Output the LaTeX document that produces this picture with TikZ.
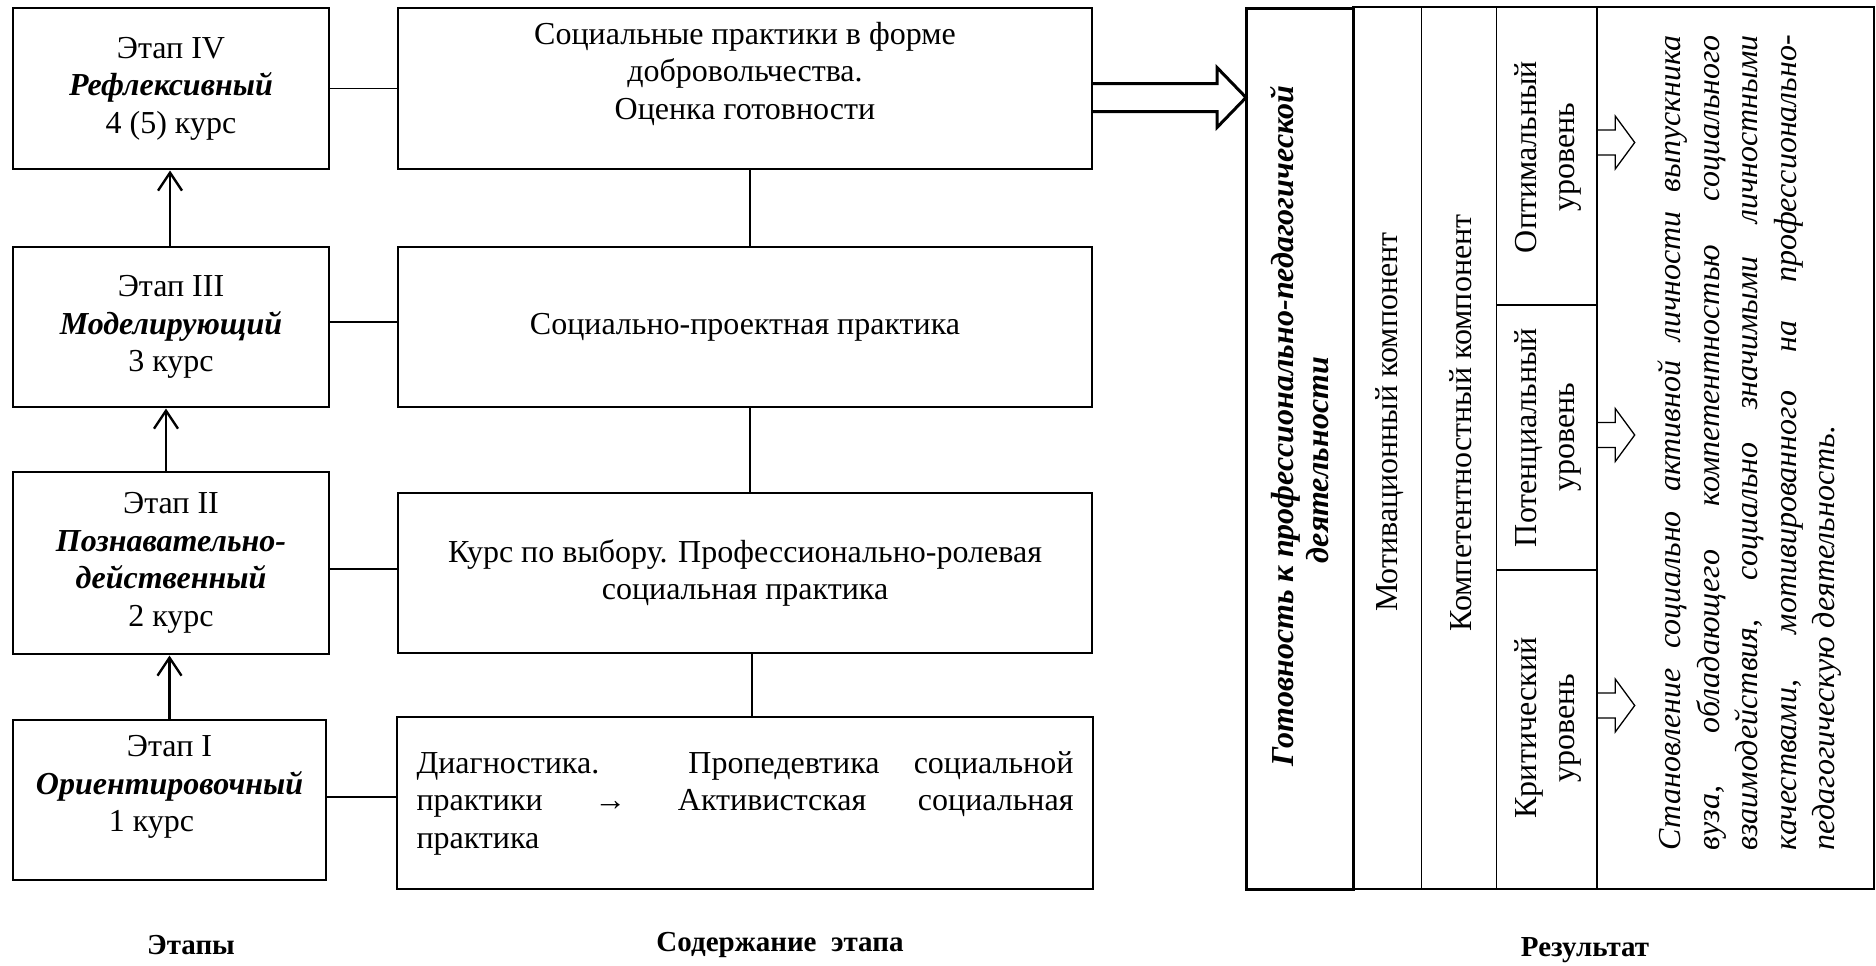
\documentclass[tikz,border=0pt]{standalone}
\usepackage{fontspec}
\setmainfont{Liberation Serif}
\usetikzlibrary{arrows.meta,calc}
\tikzset{
  fs/.style={font=\fontsize{32}{37.5}\selectfont},
  cell/.style={draw, line width=1.6pt, inner sep=0pt, outer sep=0pt},
  stagebox/.style={cell, fs, align=center, minimum width=316pt},
  contbox/.style={cell, fs, align=center, minimum width=694pt},
  conn/.style={line width=1.6pt},
  uparrow/.style={line width=2.4pt, shorten >=1.5pt, -{Straight Barb[length=18pt,width=24pt]}},
  bigarrow/.style={line width=3pt, line join=miter},
  smallarrow/.style={line width=1.3pt, line join=miter},
  vtext/.style={fs, rotate=90, align=center, inner sep=0pt},
  caption/.style={font=\fontsize{29}{34}\selectfont\bfseries},
}
\begin{document}
\begin{tikzpicture}[x=1pt,y=1pt]
\useasboundingbox (0,0) rectangle (1876,-966);
% ---------- stages ----------
\node[stagebox, minimum height=161pt] (e4) at (171,-88.5) {Этап IV\\\textbf{\textit{Рефлексивный}}\\4 (5) курс};
\node[stagebox, minimum height=160pt] (e3) at (171,-327) {Этап III\\\textbf{\textit{Моделирующий}}\\3 курс};
\node[stagebox, minimum height=182pt] (e2) at (171,-563) {Этап II\\\textbf{\textit{Познавательно-}}\\\textbf{\textit{действенный}}\\2 курс};
\node[cell, minimum width=313pt, minimum height=160pt] (e1) at (169.5,-800) {};
\node[fs, align=center] (e1t) at ([yshift=13]e1.center) {Этап I\\\textbf{\textit{Ориентировочный}}\\1 курс\hspace*{36pt}};
% ---------- contents ----------
\node[cell, minimum width=694pt, minimum height=161pt] (k4) at (745,-88.5) {};
\node[fs, align=center] (k4t) at (745,-73.5) {Социальные практики в форме\\добровольчества.\\Оценка готовности};
\node[contbox, minimum height=160pt] (k3) at (745,-327) {Социально-проектная практика};
\node[contbox, minimum height=160pt] (k2) at (745,-573) {Курс по выбору. Профессионально-ролевая\\социальная практика};
\node[contbox, align=left, minimum width=696pt, minimum height=172pt] (k1) at (745,-803) {\makebox[657pt][s]{Диагностика. Пропедевтика социальной}\\\makebox[657pt][s]{практики → Активистская социальная}\\практика};
% ---------- connectors ----------
\draw[conn] (e4.east) -- (k4.west);
\draw[conn] ([yshift=5]e3.east) -- ([yshift=5]k3.west);
\draw[conn] ([yshift=-6]e2.east) -- ([yshift=4]k2.west);
\draw[conn] ([yshift=3]e1.east) -- ([yshift=6]k1.west);
\draw[conn] ([xshift=5]k4.south) -- ([xshift=5]k3.north);
\draw[conn] ([xshift=5]k3.south) -- ([xshift=5]k2.north);
\draw[conn] ([xshift=7]k2.south) -- ([xshift=7]k1.north);
\draw[uparrow] (e1.north) -- (e1.north |- e2.south);
\draw[uparrow] ([xshift=-5]e2.north) -- ([xshift=-5]e3.south);
\draw[uparrow] ([xshift=-1]e3.north) -- ([xshift=-1]e4.south);
% ---------- result table ----------
\node[cell, minimum width=68.5pt, minimum height=882pt] (m) at (1387.25,-448) {};
\node[cell, minimum width=75pt, minimum height=882pt] (kc) at (1459,-448) {};
\node[cell, minimum width=100.2pt, minimum height=298pt] (L3) at (1546.6,-156) {};
\node[cell, minimum width=100.2pt, minimum height=265pt] (L2) at (1546.6,-437.5) {};
\node[cell, minimum width=100.2pt, minimum height=319pt] (L1) at (1546.6,-729.5) {};
\node[cell, minimum width=277.3pt, minimum height=882pt] (r) at (1735.35,-448) {};
\node[draw, line width=3pt, inner sep=0pt, outer sep=0pt, minimum width=107pt, minimum height=880pt] (g) at (1299.5,-449) {};
% texts in result table
\node[rotate=90, align=center, inner sep=0pt, font=\fontsize{32}{35}\selectfont\bfseries\itshape] (gt) at (1299.5,-426) {Готовность к профессионально-педагогической\\деятельности\hspace*{68pt}};
\node[vtext] (mt) at (1390,-422) {Мотивационный компонент};
\node[vtext] (kct) at (1461,-423) {Компетентностный компонент};
\node[vtext] (L3t) at (1548,-157) {Оптимальный\\уровень};
\node[vtext] (L2t) at (1548,-437.5) {Потенциальный\\уровень};
\node[vtext] (L1t) at (1548,-728) {Критический\\уровень};
\node[rotate=90, align=left, inner sep=0pt, font=\fontsize{32}{38.5}\selectfont\itshape] (rt) at (1750,-442.5) {\makebox[815pt][s]{Становление социально активной личности выпускника}\\\makebox[815pt][s]{вуза, обладающего компетентностью социального}\\\makebox[815pt][s]{взаимодействия, социально значимыми личностными}\\\makebox[815pt][s]{качествами, мотивированного на профессионально-}\\педагогическую деятельность.};
% ---------- big arrow ----------
\coordinate (bs) at ([yshift=-9]k4.east);
\coordinate (bt) at (bs -| g.west);
\draw[bigarrow] ([yshift=14]bs) -- ([xshift=-29,yshift=14]bt) -- ([xshift=-29,yshift=30]bt) -- (bt) -- ([xshift=-29,yshift=-30]bt) -- ([xshift=-29,yshift=-14]bt) -- ([yshift=-14]bs);
% ---------- small arrows ----------
\coordinate (a3) at ([yshift=13.5]L3.east);
\coordinate (a2) at ([yshift=2.5]L2.east);
\coordinate (a1) at ([yshift=24]L1.east);
\foreach \a in {a3,a2,a1}{
  \draw[smallarrow] ([yshift=12.5]\a) -- ++(18.5,0) -- ++(0,14) -- ++(19.5,-26.5) -- ++(-19.5,-26.5) -- ++(0,14) -- ++(-18.5,0);
}
% ---------- captions ----------
\node[caption] (c1) at (191,-945) {Этапы};
\node[caption] (c2) at (780,-945) {Содержание\ \ этапа};
\node[caption] (c3) at (1585,-950) {Результат};
\end{tikzpicture}
\end{document}
